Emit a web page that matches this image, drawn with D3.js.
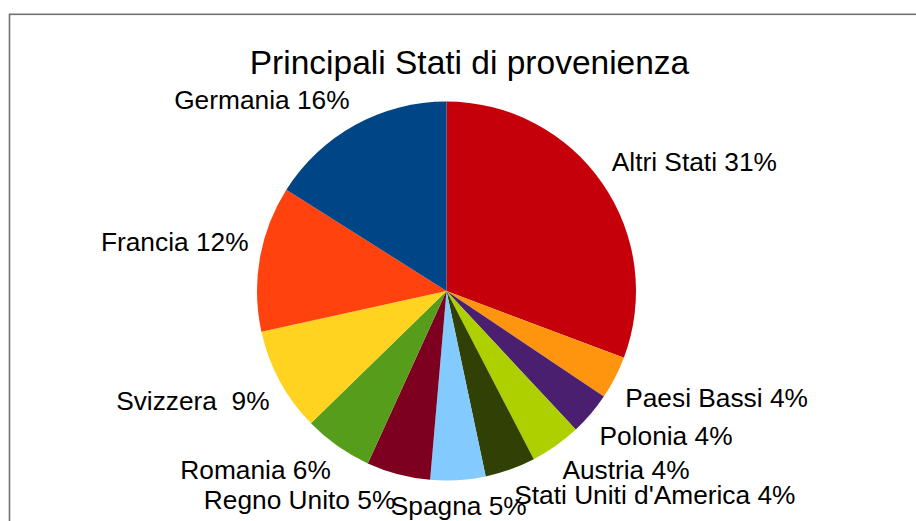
<!DOCTYPE html>
<html>
<head>
<meta charset="utf-8">
<script src="https://cdn.jsdelivr.net/npm/d3@7"></script>
<style>
  html, body { margin: 0; padding: 0; background: #fff; }
  svg { display: block; }
  text { font-family: "Liberation Sans", Arial, sans-serif; fill: #000; white-space: pre; }
</style>
</head>
<body>
<svg id="chart" width="916" height="521"></svg>
<script>
const title = "Principali Stati di provenienza";
const categories = ["Altri Stati", "Paesi Bassi", "Polonia", "Austria", "Stati Uniti d'America",
  "Spagna", "Regno Unito", "Romania", "Svizzera", "Francia", "Germania"];
const values = [30.74, 3.68, 3.65, 4.33, 4.30, 4.70, 5.44, 5.88, 8.86, 12.43, 16.03];
const percentLabels = ["31%", "4%", "4%", "4%", "4%", "5%", "5%", "6%", " 9%", "12%", "16%"];
const colors = ["#c5000b", "#ff950e", "#4b1f6f", "#aecf00", "#314004",
  "#83caff", "#7e0021", "#579d1c", "#ffd320", "#ff420e", "#004586"];

const svg = d3.select("#chart");

// frame
svg.append("rect")
  .attr("x", 9.5).attr("y", 14.3)
  .attr("width", 1000).attr("height", 600)
  .attr("fill", "none").attr("stroke", "#727272").attr("stroke-width", 1.6);

// title
svg.append("text")
  .attr("x", 469.5).attr("y", 73.5)
  .attr("text-anchor", "middle")
  .attr("font-size", 33.5)
  .text(title);

const cx = 446.5, cy = 291, r = 189.5, labelR = 201;
const fs = 26.3;

const pie = d3.pie().sort(null).value(d => d.value);
const arcs = pie(categories.map((c, i) => ({ name: c, value: values[i], pct: percentLabels[i], color: colors[i] })));
const arc = d3.arc().innerRadius(0).outerRadius(r);

const g = svg.append("g").attr("transform", `translate(${cx},${cy})`);
g.selectAll("path.slice").data(arcs).join("path")
  .attr("class", "slice")
  .attr("d", arc)
  .attr("fill", d => d.data.color);

g.selectAll("text.lbl").data(arcs).join("text")
  .attr("class", "lbl")
  .attr("font-size", fs)
  .each(function(d) {
    const a = (d.startAngle + d.endAngle) / 2;
    const s = Math.sin(a), c = Math.cos(a);
    const x = labelR * s, y = -labelR * c;
    let anchor = Math.abs(s) < 0.2 ? "middle" : (s > 0 ? "start" : "end");
    let base;
    if (Math.abs(c) < 0.08) base = y + 0.35 * fs;
    else if (c > 0) base = y - 0.212 * fs;
    else base = y + 0.905 * fs;
    d3.select(this)
      .attr("x", x).attr("y", base)
      .attr("text-anchor", anchor)
      .text(d.data.name + " " + d.data.pct);
  });
</script>
</body>
</html>
